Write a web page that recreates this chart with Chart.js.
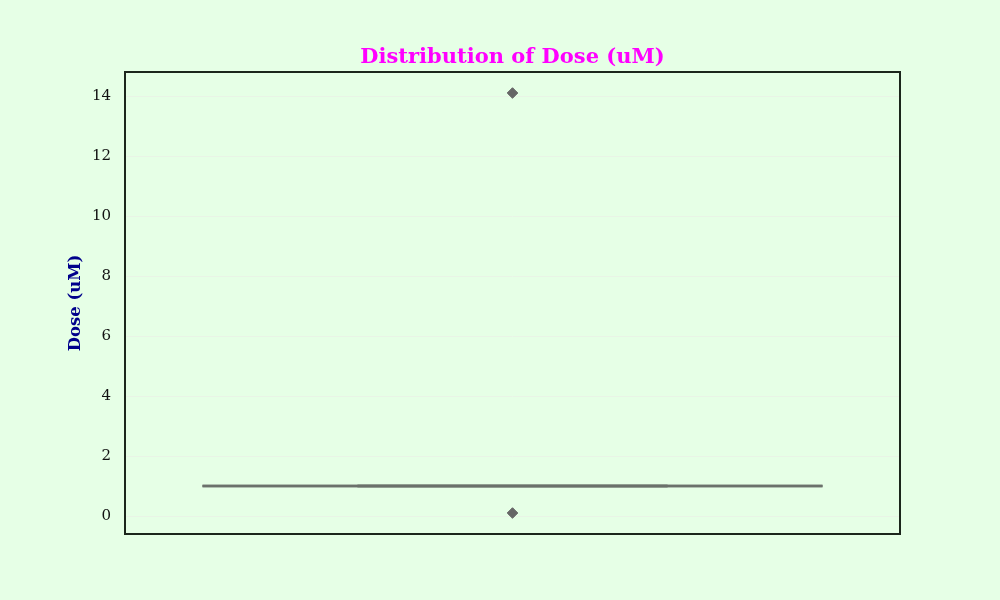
<!DOCTYPE html>
<html>
<head>
<meta charset="utf-8">
<style>
  html, body { margin: 0; padding: 0; background: #e6ffe6; }
  #wrap { width: 1000px; height: 600px; }
</style>
<script src="https://cdn.jsdelivr.net/npm/chart.js@4/dist/chart.umd.min.js"></script>
</head>
<body>
<div id="wrap"><canvas id="c" width="1000" height="600"></canvas></div>
<script>
// ---- data ----
const categories = ['Dose (uM)'];
const q1 = [1.0];
const median = [1.0];
const q3 = [1.0];
const whiskerLow = [1.0];
const whiskerHigh = [1.0];
const outliers = [[0.1, 14.1]];
const yTicks = [0, 2, 4, 6, 8, 10, 12, 14];
const chartTitle = 'Distribution of Dose (uM)';
const yTitle = 'Dose (uM)';

// ---- style ----
const boxHalf = 0.4;
const capHalf = 0.2;
const serif = "'DejaVu Serif', serif";

const datasets = [];
categories.forEach((cat, i) => {
  datasets.push({
    type: 'line',
    data: [{x: i - boxHalf, y: q1[i]}, {x: i + boxHalf, y: q1[i]}, {x: i + boxHalf, y: q3[i]}, {x: i - boxHalf, y: q3[i]}, {x: i - boxHalf, y: q1[i]}],
    borderColor: '#6b716b', borderWidth: 2.5, pointRadius: 0, fill: false, tension: 0
  });
  datasets.push({
    type: 'line',
    data: [{x: i - boxHalf, y: median[i]}, {x: i + boxHalf, y: median[i]}],
    borderColor: '#6b716b', borderWidth: 2.5, pointRadius: 0, fill: false
  });
  datasets.push({
    type: 'line',
    data: [{x: i, y: whiskerLow[i]}, {x: i, y: q1[i]}],
    borderColor: '#6b716b', borderWidth: 2.5, pointRadius: 0, fill: false
  });
  datasets.push({
    type: 'line',
    data: [{x: i, y: q3[i]}, {x: i, y: whiskerHigh[i]}],
    borderColor: '#6b716b', borderWidth: 2.5, pointRadius: 0, fill: false
  });
  datasets.push({
    type: 'line',
    data: [{x: i - capHalf, y: whiskerLow[i]}, {x: i + capHalf, y: whiskerLow[i]}],
    borderColor: 'rgba(150,165,150,0.9)', borderWidth: 3, pointRadius: 0, fill: false
  });
  datasets.push({
    type: 'line',
    data: [{x: i - capHalf, y: whiskerHigh[i]}, {x: i + capHalf, y: whiskerHigh[i]}],
    borderColor: 'rgba(150,165,150,0.9)', borderWidth: 3, pointRadius: 0, fill: false
  });
  datasets.push({
    type: 'scatter',
    data: outliers[i].map(v => ({x: i, y: v})),
    pointStyle: 'rectRot', pointRadius: 5.3,
    backgroundColor: '#666666', borderColor: '#666666', borderWidth: 1
  });
});

const framePlugin = {
  id: 'frame',
  afterDatasetsDraw(chart) {
    const {ctx, chartArea: a} = chart;
    ctx.save();
    ctx.strokeStyle = '#1c261c';
    ctx.lineWidth = 2;
    ctx.strokeRect(a.left, a.top, a.right - a.left, a.bottom - a.top);
    ctx.fillStyle = '#ff00ff';
    ctx.font = 'bold 21px ' + serif;
    ctx.textAlign = 'center';
    ctx.textBaseline = 'middle';
    ctx.fillText(chartTitle, (a.left + a.right) / 2, 58);
    ctx.restore();
  }
};

new Chart(document.getElementById('c'), {
  data: { datasets },
  plugins: [framePlugin],
  options: {
    responsive: false,
    animation: false,
    layout: { padding: { left: 0, right: 100, top: 72, bottom: 66 } },
    plugins: {
      legend: { display: false },
      tooltip: { enabled: false },
      title: { display: false }
    },
    scales: {
      x: {
        type: 'linear', display: false,
        min: -0.5, max: categories.length - 0.5
      },
      y: {
        type: 'linear',
        min: -0.6, max: 14.8,
        afterFit(scale) { scale.width = 125; },
        afterBuildTicks(scale) { scale.ticks = yTicks.map(v => ({value: v})); },
        border: { display: false },
        grid: { color: '#e9f4e6', lineWidth: 1, drawTicks: false },
        ticks: {
          color: '#111', padding: 14,
          font: { family: serif, size: 15 }
        },
        title: {
          display: true, text: yTitle, color: '#00008b',
          font: { family: serif, size: 16.5, weight: 'bold' },
          padding: { top: 66, bottom: 0 }
        }
      }
    }
  }
});
</script>
</body>
</html>
